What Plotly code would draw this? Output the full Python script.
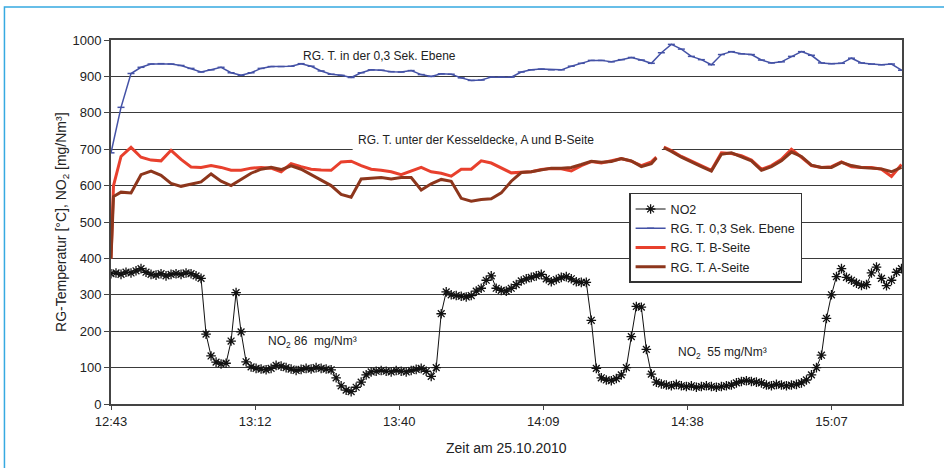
import plotly.graph_objects as go

# ---- time axis (minutes after 12:43) ----
no2_minutes = list(range(0, 159))
blue_minutes = list(range(0, 159, 2))
temp_minutes = [0, 0.5] + list(range(2, 110, 2)) + [109, 109.7, 110.5] + list(range(112, 159, 2))

tick_minutes = [0, 28.8, 57.6, 86.4, 115.2, 144.0]
tick_labels = ["12:43", "13:12", "13:40", "14:09", "14:38", "15:07"]

# ---- NO2 [mg/Nm³], one reading per minute ----
no2 = [
    358, 360, 356, 362, 360, 366, 372, 362, 356, 354, 358, 352, 356, 358, 356, 360, 358, 352,
    345, 192, 132, 115, 110, 112, 173, 306, 198, 116,
    102, 98, 96, 94, 98, 106, 104, 100, 96, 92, 95, 98, 96, 100, 98, 96, 94,
    72, 50, 38, 34, 46, 60, 80, 88, 90, 92, 90, 88, 92, 90, 88, 92, 95, 98,
    90, 76, 100, 248, 308,
    300, 298, 296, 294, 298,
    310, 318, 340, 352, 318, 312, 310, 318, 328, 338, 344, 348, 352, 356, 344, 336, 342, 348,
    350, 344, 336, 334, 334,
    230, 98, 72, 66, 64, 70, 80, 100, 185, 268, 266, 150, 82, 60,
    55, 52, 50, 54, 50, 48, 50, 46, 48, 50, 48, 46, 48, 50, 52,
    58, 62, 64, 62, 60, 58,
    52, 50, 54, 52, 50, 52, 54, 58,
    66, 80, 100, 134, 235, 300, 350, 372, 348, 340, 332, 326, 328, 360, 376, 345, 325, 340, 362, 372,
]

# ---- RG. T. 0,3 Sek. Ebene [°C], every 2 minutes ----
rg_03 = [
    690, 815, 908, 925, 934, 935, 934, 930, 922, 912,
    918, 925, 910, 903, 910, 922, 927, 927, 928, 935,
    928, 915, 906, 903, 897, 910, 918, 917, 913, 912,
    916, 905, 900, 907, 906, 896, 889, 890, 898, 898,
    898, 912, 918, 920, 918, 918, 928, 936, 944, 944,
    940, 946, 952, 945, 936, 965, 988, 975, 955, 946,
    932, 960, 968, 962, 960, 945, 937, 940, 955, 968,
    958, 937, 935, 936, 950, 937, 934, 932, 934, 917,
]

# ---- RG. T. B-Seite [°C] (gap in logging near 14:32) ----
rg_b = [
    400, 600, 680, 705, 678, 670, 668, 697, 672, 651, 650,
    655, 650, 642, 642, 648, 650, 648, 638, 660, 652,
    645, 643, 642, 665, 667, 655, 645, 642, 638, 630,
    640, 650, 638, 634, 626, 645, 645, 668, 662, 648,
    635, 637, 638, 644, 647, 646, 640, 655, 666, 662,
    668, 674, 667, 655, 665,
    678, None, 706,
    696, 680, 668, 654, 642, 690, 688, 682, 670, 645, 655, 672,
    700, 678, 655, 650, 652, 665, 652, 650, 650, 645, 625, 658,
]

# ---- RG. T. A-Seite [°C] ----
rg_a = [
    400, 570, 582, 580, 630, 640, 628, 606, 598, 604, 610,
    632, 612, 600, 617, 634, 645, 650, 644, 654, 645,
    630, 616, 600, 576, 568, 618, 621, 622, 618, 622,
    622, 588, 605, 617, 612, 565, 557, 562, 564, 580,
    612, 636, 638, 644, 648, 648, 650, 658, 667, 664,
    666, 674, 668, 652, 660,
    676, None, 704,
    694, 678, 664, 652, 640, 686, 690, 680, 668, 642, 652, 668,
    692, 680, 656, 650, 650, 664, 655, 650, 648, 646, 638, 650,
]

FONT = "Liberation Sans, Arial, sans-serif"
TEXT = "#222222"
GRID = "#3a3a3a"

fig = go.Figure()

fig.add_trace(go.Scatter(
    x=no2_minutes, y=no2, name="NO2", mode="lines+markers",
    line=dict(color="#111111", width=1),
    marker=dict(symbol="asterisk-open", size=8, color="#111111",
                line=dict(color="#111111", width=1.3)),
))
fig.add_trace(go.Scatter(
    x=blue_minutes, y=rg_03, name="RG. T. 0,3 Sek. Ebene", mode="lines+markers",
    line=dict(color="#4452a6", width=1.5),
    marker=dict(symbol="line-ew-open", size=5, color="#4452a6",
                line=dict(color="#4452a6", width=1.5)),
))
fig.add_trace(go.Scatter(
    x=temp_minutes, y=rg_b, name="RG. T. B-Seite", mode="lines",
    line=dict(color="#e8402d", width=3), connectgaps=False,
))
fig.add_trace(go.Scatter(
    x=temp_minutes, y=rg_a, name="RG. T. A-Seite", mode="lines",
    line=dict(color="#8d361c", width=3), connectgaps=False,
))

annotations = [
    dict(x=38.0, y=957, text="RG. T. in der 0,3 Sek. Ebene"),
    dict(x=49.0, y=724, text="RG. T. unter der Kesseldecke, A und B-Seite"),
    dict(x=31.0, y=170, text="NO<sub>2</sub> 86  mg/Nm³"),
    dict(x=113.0, y=139, text="NO<sub>2</sub>  55 mg/Nm³"),
]
for a in annotations:
    fig.add_annotation(xref="x", yref="y", xanchor="left", yanchor="middle",
                       showarrow=False, font=dict(family=FONT, size=12, color=TEXT), **a)

# axis titles
fig.add_annotation(xref="paper", yref="paper", x=-0.062, y=0.5, textangle=-90,
                   xanchor="center", yanchor="middle", showarrow=False,
                   text="RG-Temperatur [°C], NO<sub>2</sub> [mg/Nm³]",
                   font=dict(family=FONT, size=14, color=TEXT))
fig.add_annotation(xref="paper", yref="paper", x=0.5, y=-0.121,
                   xanchor="center", yanchor="middle", showarrow=False,
                   text="Zeit am 25.10.2010",
                   font=dict(family=FONT, size=14, color=TEXT))

shapes = [
    # white label box behind the "Kesseldecke" text (hides the grid line there)
    dict(type="rect", xref="x", yref="y", x0=48.3, x1=110.1, y0=694, y1=748,
         fillcolor="white", line=dict(width=0), layer="between"),
    # outer frame
    dict(type="rect", xref="paper", yref="paper", x0=-0.1347, x1=1.07, y0=-0.2, y1=1.0907,
         line=dict(color="#36a9e1", width=1.5), fillcolor="rgba(0,0,0,0)", layer="above"),
]

fig.update_layout(
    width=944, height=468,
    margin=dict(l=111, r=42, t=40, b=64),
    paper_bgcolor="white", plot_bgcolor="white",
    font=dict(family=FONT, size=13, color=TEXT),
    showlegend=True,
    legend=dict(x=0.655, y=0.58, xanchor="left", yanchor="top",
                bgcolor="white", bordercolor="#333333", borderwidth=1.5,
                font=dict(family=FONT, size=12.5, color=TEXT),
                tracegroupgap=0),
    shapes=shapes,
)

fig.update_xaxes(
    range=[0, 158.1], tickvals=tick_minutes, ticktext=tick_labels,
    showgrid=False, zeroline=False,
    showline=True, linecolor="#444444", linewidth=2, mirror=True,
    ticks="outside", ticklen=4, tickcolor="#444444",
    tickfont=dict(family=FONT, size=13, color=TEXT),
)
fig.update_yaxes(
    range=[0, 1000], dtick=100, tick0=0,
    showgrid=True, gridcolor=GRID, gridwidth=1.3, zeroline=False,
    showline=True, linecolor="#444444", linewidth=2, mirror=True,
    ticks="outside", ticklen=5, tickcolor="#444444",
    tickfont=dict(family=FONT, size=13, color=TEXT),
)

fig.write_html("out.html")
